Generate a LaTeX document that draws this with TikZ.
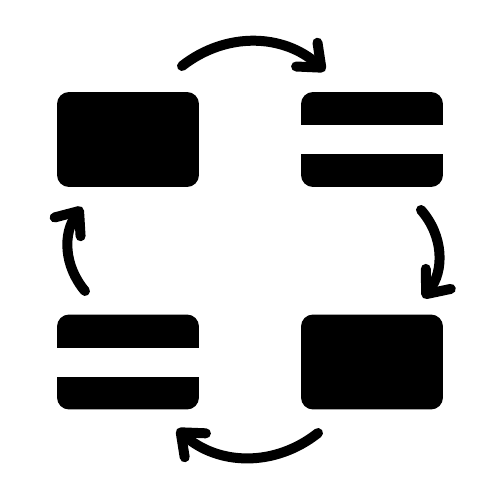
\documentclass[tikz,border=0pt]{standalone}
\usetikzlibrary{arrows.meta}
\tikzset{
  card/.style={fill=black, rounded corners=2.4mm, minimum width=2.84cm, minimum height=1.9cm, inner sep=0pt, outer sep=0pt},
  stripe/.style={fill=white, minimum width=2.84cm, minimum height=0.58cm, inner sep=0pt, outer sep=0pt},
  flow/.style={line width=2mm, line cap=round, -{Straight Barb[length=3.9mm, width=6.4mm, round]}},
}
\begin{document}
\begin{tikzpicture}[x=0.02cm, y=-0.02cm]
    \useasboundingbox (0,0) rectangle (500,500);
    \node[card] (cardTL) at (128,139.5) {};
    \node[card] (cardTR) at (372,139.5) {};
    \node[card] (cardBR) at (372,362) {};
    \node[card] (cardBL) at (128,362) {};
    \node[stripe] (stripeTR) at (cardTR) {};
    \node[stripe] (stripeBL) at (cardBL) {};
    \coordinate (topA) at (182,66);
    \coordinate (topB) at (325,71);
    \coordinate (rightA) at (421,210);
    \coordinate (rightB) at (423,298);
    \coordinate (botA) at (318,433);
    \coordinate (botB) at (177,429);
    \coordinate (leftA) at (85,291);
    \coordinate (leftB) at (82,207);
    \draw[flow] (topA) to[bend left=40] (topB);
    \draw[flow] (rightA) to[bend left=40] (rightB);
    \draw[flow] (botA) to[bend left=40] (botB);
    \draw[flow] (leftA) to[bend left=38] (leftB);
\end{tikzpicture}
\end{document}
